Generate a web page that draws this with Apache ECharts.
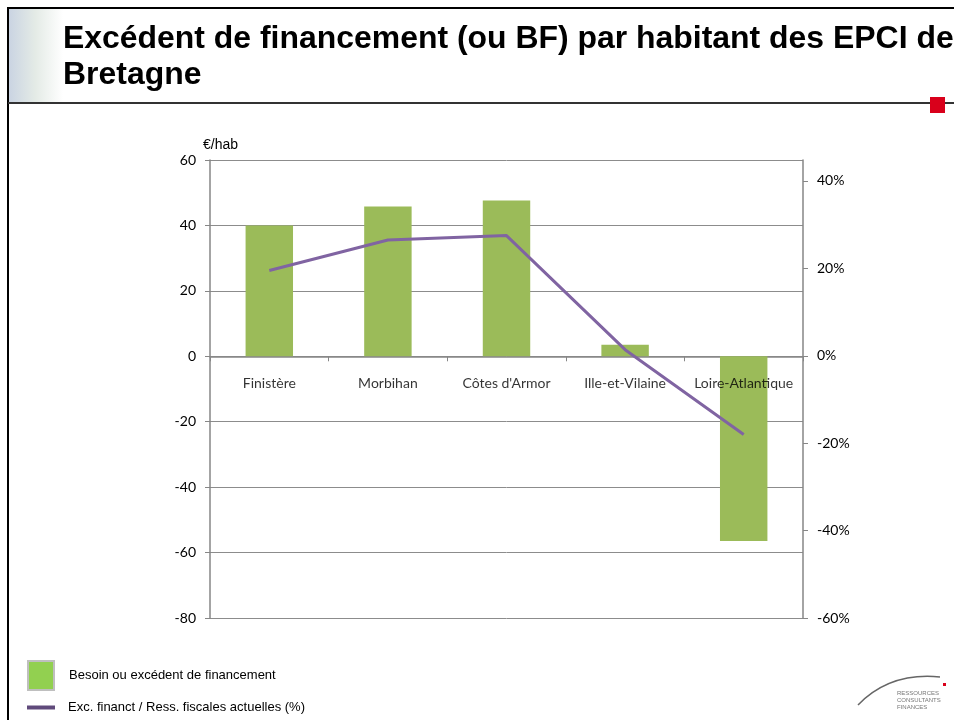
<!DOCTYPE html>
<html><head><meta charset="utf-8">
<script src="https://cdn.jsdelivr.net/npm/echarts@6/dist/echarts.min.js"></script>
<style>html,body{margin:0;padding:0;background:#fff}#c{width:954px;height:720px}</style>
</head><body><div id="c"></div>
<script>
const categories = ['Finistère', 'Morbihan', "Côtes d'Armor", 'Ille-et-Vilaine', 'Loire-Atlantique'];
const besoinValues = [40, 45.8, 47.6, 3.5, -56.5];
const ratioValues = [19.5, 26.5, 27.5, 1.4, -18];
const leftTicks = [-80, -60, -40, -20, 0, 20, 40, 60];
const rightTicks = [-60, -40, -20, 0, 20, 40];
const seriesNames = ['Besoin ou excédent de financement', 'Exc. financt / Ress. fiscales actuelles (%)'];
const titleLines = ['Excédent de financement (ou BF) par habitant des EPCI de', 'Bretagne'];

const chart = echarts.init(document.getElementById('c'));
const axisFont = 'Lato, "Open Sans", sans-serif';
chart.setOption({
  animation: false,
  grid: { left: 210, right: 151, top: 160, bottom: 102 },
  xAxis: {
    type: 'category', data: categories,
    axisLine: { onZero: true, lineStyle: { color: '#868686', width: 1.5 } },
    axisTick: { show: true, length: 5, lineStyle: { color: '#868686' } },
    axisLabel: { show: false }
  },
  yAxis: [{
    type: 'value', min: leftTicks[0], max: leftTicks[leftTicks.length - 1], interval: 20,
    name: '€/hab', nameGap: 8, nameTextStyle: { color: '#000', fontFamily: 'Liberation Sans, Arial', fontSize: 14, align: 'right', padding: [0, -28, 0, 0] },
    axisLine: { show: true, lineStyle: { color: '#868686', width: 1.5 } },
    axisTick: { show: true, length: 5, lineStyle: { color: '#868686' } },
    axisLabel: { color: '#000', fontFamily: axisFont, fontSize: 14, margin: 14 },
    splitLine: { show: true, lineStyle: { color: '#8c8c8c', width: 1 } }
  }, {
    type: 'value', min: rightTicks[0], max: 44.8, interval: 20,
    axisLine: { show: true, lineStyle: { color: '#868686', width: 1.5 } },
    axisTick: { show: true, length: 5, lineStyle: { color: '#868686' } },
    axisLabel: { color: '#000', fontFamily: axisFont, fontSize: 14, margin: 14, showMaxLabel: false,
      formatter: v => Math.round(v) + '%' },
    splitLine: { show: false }
  }],
  legend: [{
    orient: 'vertical', left: 22, top: 655, itemWidth: 26, itemHeight: 29, itemGap: 8,
    data: [{ name: seriesNames[0], icon: 'rect', itemStyle: { color: '#92d050', borderColor: '#bfbfbf', borderWidth: 2 } }],
    textStyle: { fontFamily: 'Liberation Sans, Arial', fontSize: 13, color: '#000', padding: [0, 0, 0, 10] }
  }, {
    orient: 'vertical', left: 22, top: 696, itemWidth: 28, itemHeight: 4,
    data: [{ name: seriesNames[1], icon: 'rect', itemStyle: { color: '#604a7b' } }],
    textStyle: { fontFamily: 'Liberation Sans, Arial', fontSize: 13, color: '#000', padding: [0, 0, 0, 8] }
  }],
  series: [{
    name: seriesNames[0], type: 'bar', data: besoinValues, barWidth: '40%', z: 2,
    itemStyle: { color: '#9bbb59' }
  }, {
    name: 'catLabels', type: 'scatter', symbolSize: 0, silent: true, z: 5,
    data: categories.map(c => [c, 0]),
    label: { show: true, position: 'bottom', distance: 20, formatter: p => p.data[0],
      color: '#000', fontFamily: axisFont, fontSize: 14 }
  }, {
    name: seriesNames[1], type: 'line', yAxisIndex: 1, data: ratioValues, z: 10,
    symbol: 'none', lineStyle: { color: '#8064a2', width: 3 }, itemStyle: { color: '#8064a2' }
  }],
  graphic: [
    { type: 'rect', shape: { x: 8, y: 8, width: 55, height: 95 }, style: { fill: new echarts.graphic.LinearGradient(0, 0, 1, 0, [{ offset: 0, color: '#c9d3e2' }, { offset: 0.5, color: '#e4ebe6' }, { offset: 1, color: '#ffffff' }]) }, silent: true },
    { type: 'line', shape: { x1: 8, y1: 8, x2: 954, y2: 8 }, style: { stroke: '#000', lineWidth: 2 } },
    { type: 'line', shape: { x1: 8, y1: 7, x2: 8, y2: 720 }, style: { stroke: '#000', lineWidth: 2 } },
    { type: 'line', shape: { x1: 8, y1: 103, x2: 954, y2: 103 }, style: { stroke: '#333', lineWidth: 2 } },
    { type: 'rect', shape: { x: 930, y: 97, width: 15, height: 16 }, style: { fill: '#d9001b' } },
    { type: 'text', x: 63, y: 24, scaleX: 1.03, style: { text: titleLines[0], font: 'bold 31px "Liberation Sans", Arial', fill: '#000' } },
    { type: 'text', x: 63, y: 60, scaleX: 1.03, style: { text: titleLines[1], font: 'bold 31px "Liberation Sans", Arial', fill: '#000' } },
    { type: 'bezierCurve', shape: { x1: 858, y1: 705, x2: 940, y2: 677, cpx1: 890, cpy1: 672 }, style: { stroke: '#666', lineWidth: 1.5, fill: null } },
    { type: 'rect', shape: { x: 943, y: 683, width: 3, height: 3 }, style: { fill: '#d9001b' } },
    { type: 'text', x: 897, y: 690, style: { text: 'RESSOURCES\nCONSULTANTS\nFINANCES', font: '6px "Liberation Sans", Arial', fill: '#777', lineHeight: 7 } }
  ]
});
</script></body></html>
